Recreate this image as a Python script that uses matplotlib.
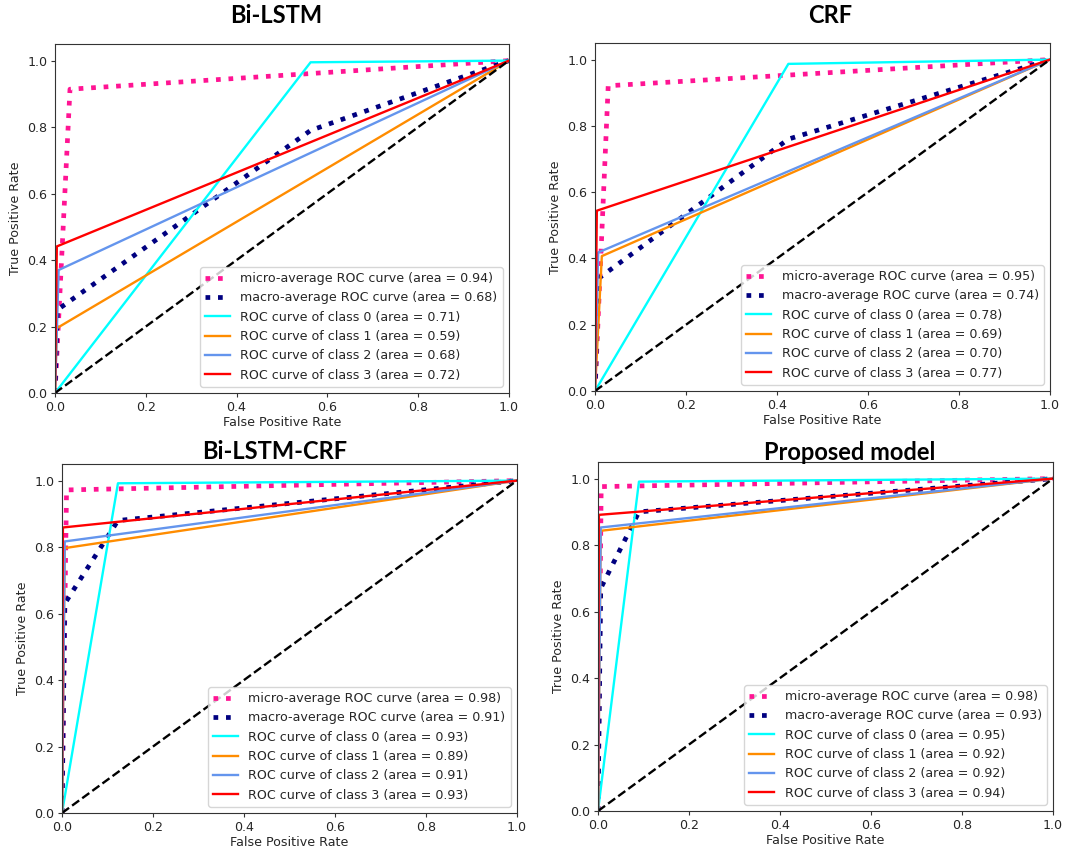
import matplotlib
matplotlib.use("Agg")
import matplotlib.pyplot as plt

# ---- data ----
titles = ["Bi-LSTM", "CRF", "Bi-LSTM-CRF", "Proposed model"]

micro_x = [[0, 0.033, 1], [0, 0.029, 1], [0, 0.010, 1], [0, 0.007, 1]]
micro_y = [[0, 0.914, 1], [0, 0.921, 1], [0, 0.972, 1], [0, 0.976, 1]]
micro_auc = [0.94, 0.95, 0.98, 0.98]

macro_x = [[0, 0.005, 0.563, 1], [0, 0.008, 0.425, 1], [0, 0.006, 0.123, 1], [0, 0.006, 0.090, 1]]
macro_y = [[0, 0.25, 0.79, 1], [0, 0.34, 0.76, 1], [0, 0.63, 0.88, 1], [0, 0.67, 0.90, 1]]
macro_auc = [0.68, 0.74, 0.91, 0.93]

# per-class curves: (0,0) -> corner -> (1,1)
class0_x = [[0, 0.563, 1], [0, 0.425, 1], [0, 0.123, 1], [0, 0.090, 1]]
class0_y = [[0, 0.995, 1], [0, 0.987, 1], [0, 0.992, 1], [0, 0.991, 1]]
class1_x = [[0, 0.004, 1], [0, 0.015, 1], [0, 0.006, 1], [0, 0.006, 1]]
class1_y = [[0, 0.195, 1], [0, 0.407, 1], [0, 0.797, 1], [0, 0.843, 1]]
class2_x = [[0, 0.008, 1], [0, 0.007, 1], [0, 0.006, 1], [0, 0.006, 1]]
class2_y = [[0, 0.370, 1], [0, 0.418, 1], [0, 0.817, 1], [0, 0.853, 1]]
class3_x = [[0, 0.004, 1], [0, 0.004, 1], [0, 0.002, 1], [0, 0.002, 1]]
class3_y = [[0, 0.441, 1], [0, 0.544, 1], [0, 0.859, 1], [0, 0.891, 1]]
class_auc = [[0.71, 0.59, 0.68, 0.72],
             [0.78, 0.69, 0.70, 0.77],
             [0.93, 0.89, 0.91, 0.93],
             [0.95, 0.92, 0.92, 0.94]]
class_colors = ["aqua", "darkorange", "cornflowerblue", "red"]

# ---- layout ----
W, H = 1079, 855
fig = plt.figure(figsize=(W / 100, H / 100), dpi=100)
plt.rcParams["font.family"] = ["DejaVu Sans"]
FS = 9.1
TXT = "#262626"

boxes = [(55, 509, 44, 393), (595, 1050, 43, 391), (62, 517, 464, 813), (598, 1053, 462, 811)]
title_pos = [(276, 23), (830, 23), (275, 459), (850, 460)]

for i in range(4):
    l, r, t, b = boxes[i]
    ax = fig.add_axes([l / W, (H - b) / H, (r - l) / W, (b - t) / H])
    ax.plot(micro_x[i], micro_y[i], color="deeppink", linestyle=":", linewidth=3.4,
            label="micro-average ROC curve (area = {0:0.2f})".format(micro_auc[i]))
    ax.plot(macro_x[i], macro_y[i], color="navy", linestyle=":", linewidth=3.4,
            label="macro-average ROC curve (area = {0:0.2f})".format(macro_auc[i]))
    cx = [class0_x[i], class1_x[i], class2_x[i], class3_x[i]]
    cy = [class0_y[i], class1_y[i], class2_y[i], class3_y[i]]
    for k in range(4):
        ax.plot(cx[k], cy[k], color=class_colors[k], lw=1.7,
                label="ROC curve of class {0} (area = {1:0.2f})".format(k, class_auc[i][k]))
    ax.plot([0, 1], [0, 1], "k--", lw=1.7)
    ax.set_xlim([0.0, 1.0])
    ax.set_ylim([0.0, 1.05])
    ax.set_xlabel("False Positive Rate", fontsize=FS, labelpad=1.5, color=TXT)
    ax.set_ylabel("True Positive Rate", fontsize=FS, color=TXT)
    ax.tick_params(labelsize=FS, length=3, width=0.8, labelcolor=TXT, color="#333333", pad=2.5)
    for s in ax.spines.values():
        s.set_color("#333333")
    leg = ax.legend(loc="lower right", fontsize=FS)
    for tx in leg.get_texts():
        tx.set_color(TXT)
    fig.text(title_pos[i][0] / W, 1 - title_pos[i][1] / H, titles[i],
             ha="center", va="baseline", fontsize=17, fontweight="bold",
             family=["Lato", "DejaVu Sans"])

fig.savefig("out.png", dpi=100)
